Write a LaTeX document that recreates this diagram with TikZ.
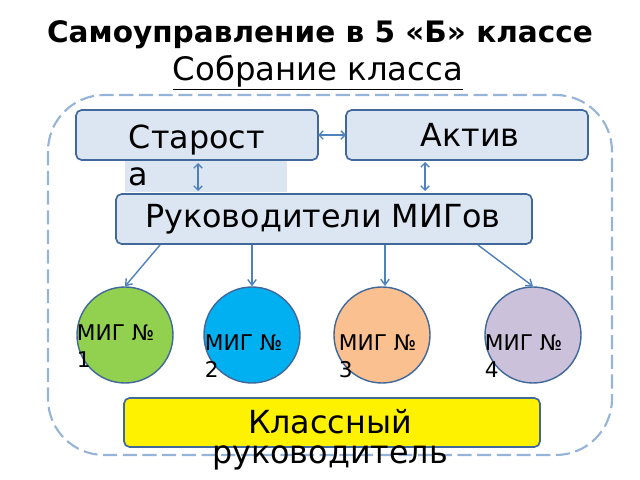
\documentclass[tikz,border=0pt]{standalone}
\usepackage{fontspec}
\setmainfont{DejaVu Sans}
\usetikzlibrary{arrows.meta}
\definecolor{boxfill}{HTML}{DCE6F2}
\definecolor{boxline}{HTML}{41689A}
\definecolor{arrcol}{HTML}{4F81BD}
\begin{document}
\begin{tikzpicture}[x=0.025cm,y=-0.025cm,
  big/.style={font=\fontsize{22.6}{26}\selectfont},
  box/.style={draw=boxline,line width=1.2pt,rounded corners=4pt},
  link/.style={arrcol,line width=1pt,-{Straight Barb[length=4pt,width=6pt]}},
  dlink/.style={arrcol,line width=1pt,{Straight Barb[length=3pt,width=6pt]}-{Straight Barb[length=3pt,width=6pt]}},
  mig/.style={circle,draw=boxline,line width=1pt,minimum size=96*0.025cm}]
  \useasboundingbox (0,0) rectangle (640,480);
  % titles
  \node[font=\fontsize{21}{24}\selectfont\bfseries] (title) at (320,35) {Самоуправление в 5 «Б» классе};
  \node[font=\fontsize{23}{26}\selectfont] (meet) at (318,73) {\underline{Собрание класса}};
  % frame
  \draw[arrcol!60,dash pattern=on 10pt off 4pt,line width=1.5pt,rounded corners=40pt] (48,95) rectangle (612,455);
  % top boxes
  \fill[boxfill] (125,158) rectangle (287,192);
  \draw[box,fill=boxfill] (76,110) rectangle (318,160);
  \coordinate (sl) at (76,135); \coordinate (sr) at (318,135);
  \draw[box,fill=boxfill] (346,110) rectangle (588,160);
  \coordinate (al) at (346,135);
  \node[big,anchor=west] (star) at (124,140) {Старост};
  \node[big,anchor=west] (stara) at (124,177) {а};
  \node[big] (aktiv) at (470,135) {Актив};
  % leaders
  \draw[box,fill=boxfill] (116,194) rectangle (532,244);
  \node[big] (lead) at (323,219) {Руководители МИГов};
  % circles
  \node[mig,fill={rgb,255:red,146;green,208;blue,80}] (m1) at (125,335) {};
  \node[mig,fill={rgb,255:red,0;green,176;blue,240}] (m2) at (252,335) {};
  \node[mig,fill={rgb,255:red,250;green,192;blue,144}] (m3) at (382,335) {};
  \node[mig,fill={rgb,255:red,204;green,193;blue,218}] (m4) at (533,335) {};
  \foreach \x/\y/\n in {72/330/1,200/340/2,334/340/3,480/340/4}{
    \node[anchor=west,align=left,font=\fontsize{15.4}{19}\selectfont] at (\x,\y+16) {МИГ №\\\n};
  }
  % arrows
  \draw[dlink] (sr) -- (al);
  \draw[dlink] (198,163) -- (198,191);
  \draw[dlink] (425,162) -- (425,191);
  \draw[link] (160,245) -- (m1.north);
  \draw[link] (252,245) -- (m2.north);
  \draw[link] (385,245) -- (385,286);
  \draw[link] (478,245) -- (m4.north);
  % teacher
  \draw[box,fill=yellow] (124,398) rectangle (540,447);
  \node[big] (t1) at (330,422) {Классный};
  \node[big] (t2) at (330,458) {руководитель};
\end{tikzpicture}
\end{document}
